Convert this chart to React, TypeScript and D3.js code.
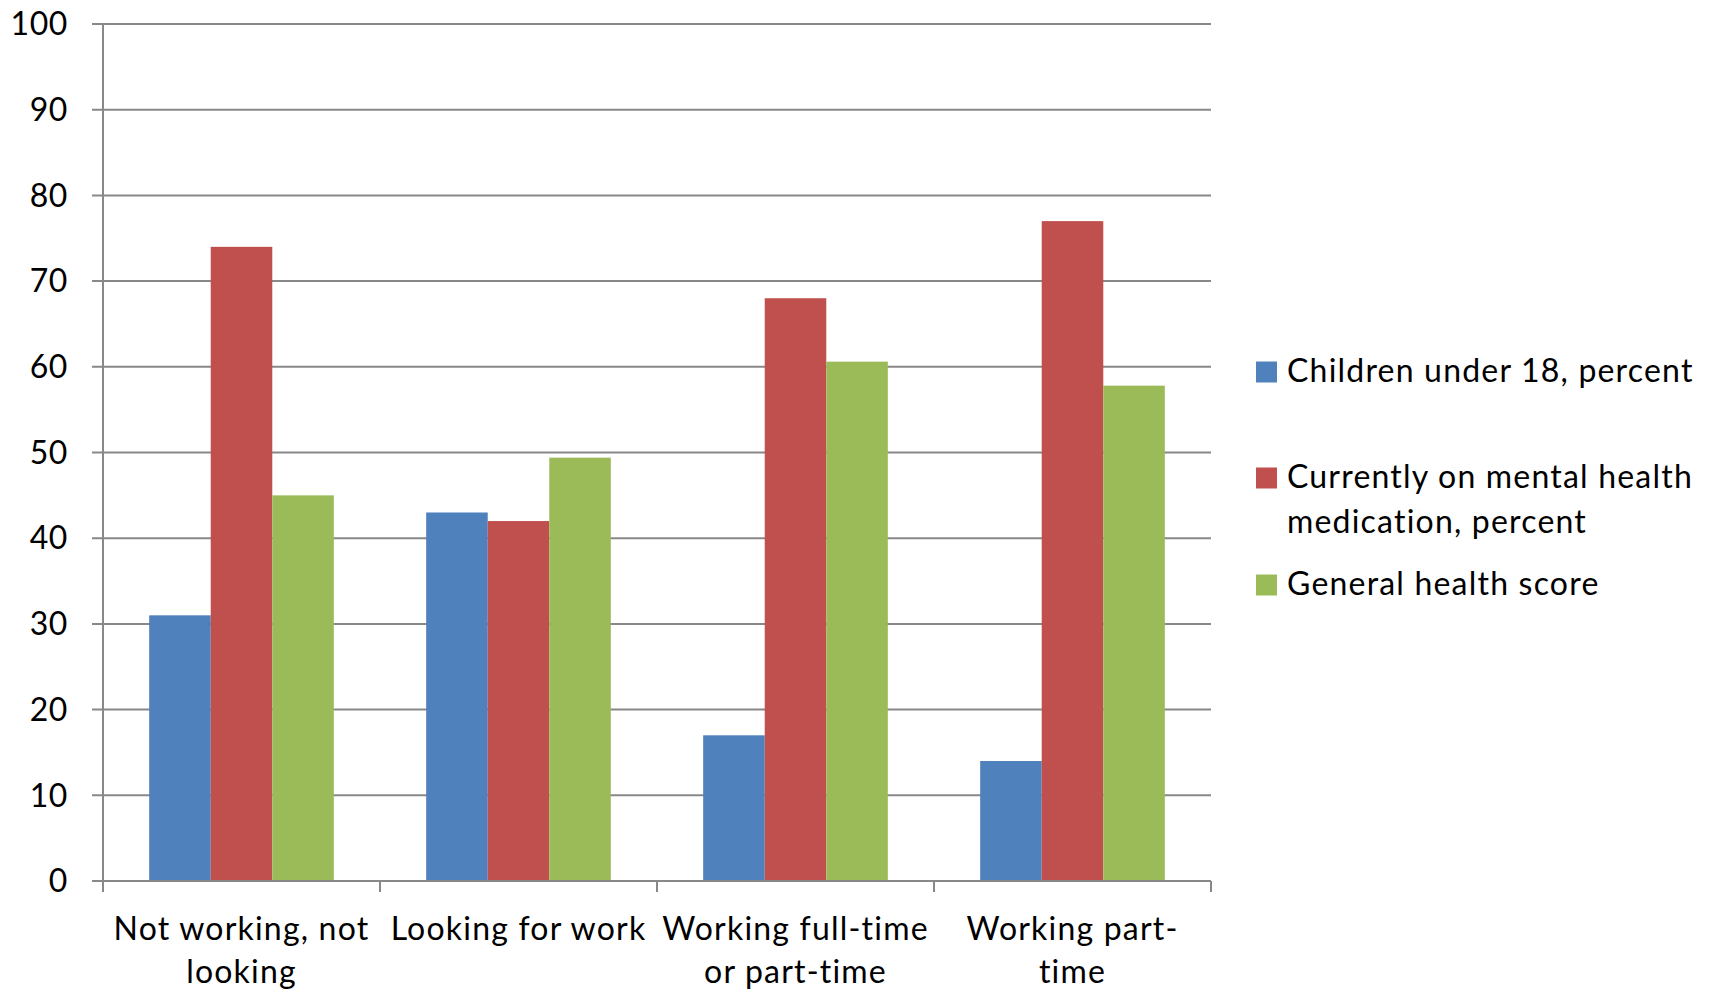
import React, { useEffect, useRef } from 'react';
import * as d3 from 'd3';

const categories = [
  'Not working, not looking',
  'Looking for work',
  'Working full-time or part-time',
  'Working part-time',
];
const categoryLines = [
  ['Not working, not', 'looking'],
  ['Looking for work'],
  ['Working full-time', 'or part-time'],
  ['Working part-', 'time'],
];
const seriesNames = [
  'Children under 18, percent',
  'Currently on mental health medication, percent',
  'General health score',
];
const legendLines = [
  ['Children under 18, percent'],
  ['Currently on mental health', 'medication, percent'],
  ['General health score'],
];
const seriesColors = ['#4F81BD', '#C0504D', '#9BBB59'];
const children = [31, 43, 17, 14];
const medication = [74, 42, 68, 77];
const healthScore = [45, 49.4, 60.6, 57.8];
const yTicks = [0, 10, 20, 30, 40, 50, 60, 70, 80, 90, 100];

const W = 1713;
const H = 991;
const FONT = 'Lato, "Open Sans", sans-serif';

export default function App() {
  const svgRef = useRef<SVGSVGElement>(null);

  useEffect(() => {
    if (!svgRef.current) return;
    const svg = d3.select(svgRef.current);
    svg.selectAll('*').remove();

    const left = 103;
    const right = 1211;
    const top = 24;
    const bottom = 881;
    const gridColor = '#888888';
    const fontSize = 32;
    const spacing = '1.2px';

    const values = [children, medication, healthScore];

    const x0 = d3.scaleBand<string>().domain(categories).range([left, right]);
    const x1 = d3
      .scaleBand<number>()
      .domain(d3.range(seriesNames.length))
      .range([0, x0.bandwidth()])
      .paddingOuter(0.75);
    const y = d3.scaleLinear().domain([0, 100]).range([bottom, top]);

    // Gridlines
    svg
      .append('g')
      .selectAll('line')
      .data(yTicks)
      .join('line')
      .attr('x1', left - 11)
      .attr('x2', right)
      .attr('y1', d => y(d))
      .attr('y2', d => y(d))
      .attr('stroke', gridColor)
      .attr('stroke-width', 2);

    // Y labels
    svg
      .append('g')
      .selectAll('text')
      .data(yTicks)
      .join('text')
      .attr('x', 68)
      .attr('y', d => y(d))
      .attr('dy', '0.35em')
      .attr('text-anchor', 'end')
      .attr('font-family', FONT)
      .attr('font-size', fontSize)
      .attr('letter-spacing', '0.6px')
      .attr('fill', '#000')
      .text(d => d);

    // Bars
    const groups = svg
      .append('g')
      .selectAll('g')
      .data(categories)
      .join('g')
      .attr('transform', d => `translate(${x0(d)},0)`);

    groups
      .selectAll('rect')
      .data((_, ci) => values.map((s, si) => ({ si, v: s[ci] })))
      .join('rect')
      .attr('x', d => x1(d.si)!)
      .attr('width', x1.bandwidth())
      .attr('y', d => y(d.v))
      .attr('height', d => y(0) - y(d.v))
      .attr('fill', d => seriesColors[d.si]);

    // Axes lines
    svg
      .append('line')
      .attr('x1', left)
      .attr('x2', left)
      .attr('y1', top)
      .attr('y2', bottom + 11)
      .attr('stroke', gridColor)
      .attr('stroke-width', 2);
    svg
      .append('line')
      .attr('x1', left - 11)
      .attr('x2', right)
      .attr('y1', bottom)
      .attr('y2', bottom)
      .attr('stroke', gridColor)
      .attr('stroke-width', 2);

    // X ticks
    const tickXs = categories.map(c => x0(c)! + x0.bandwidth());
    svg
      .append('g')
      .selectAll('line')
      .data(tickXs)
      .join('line')
      .attr('x1', d => d)
      .attr('x2', d => d)
      .attr('y1', bottom)
      .attr('y2', bottom + 11)
      .attr('stroke', gridColor)
      .attr('stroke-width', 2);

    // X labels
    const xl = svg
      .append('g')
      .selectAll('text')
      .data(categories)
      .join('text')
      .attr('text-anchor', 'middle')
      .attr('font-family', FONT)
      .attr('font-size', fontSize)
      .attr('letter-spacing', spacing)
      .attr('fill', '#000');
    xl.selectAll('tspan')
      .data((_, i) => categoryLines[i].map(t => ({ t, i })))
      .join('tspan')
      .attr('x', d => x0(categories[d.i])! + x0.bandwidth() / 2)
      .attr('y', (_, j) => 940 + j * 43)
      .text(d => d.t);

    // Legend
    const legendY = [372, 478, 585];
    const lg = svg
      .append('g')
      .selectAll('g')
      .data(seriesNames)
      .join('g')
      .attr('transform', (_, i) => `translate(1256,${legendY[i]})`);
    lg.append('rect')
      .attr('x', 0)
      .attr('y', -10.5)
      .attr('width', 21)
      .attr('height', 21)
      .attr('fill', (_, i) => seriesColors[i]);
    lg.append('text')
      .attr('font-family', FONT)
      .attr('font-size', fontSize)
      .attr('letter-spacing', spacing)
      .attr('fill', '#000')
      .selectAll('tspan')
      .data((_, i) => legendLines[i])
      .join('tspan')
      .attr('x', 31)
      .attr('y', (_, j) => 10 + j * 45)
      .text(d => d);
  }, []);

  return (
    <svg
      ref={svgRef}
      width={W}
      height={H}
      style={{ position: 'absolute', left: 0, top: 0, background: '#fff' }}
    />
  );
}
